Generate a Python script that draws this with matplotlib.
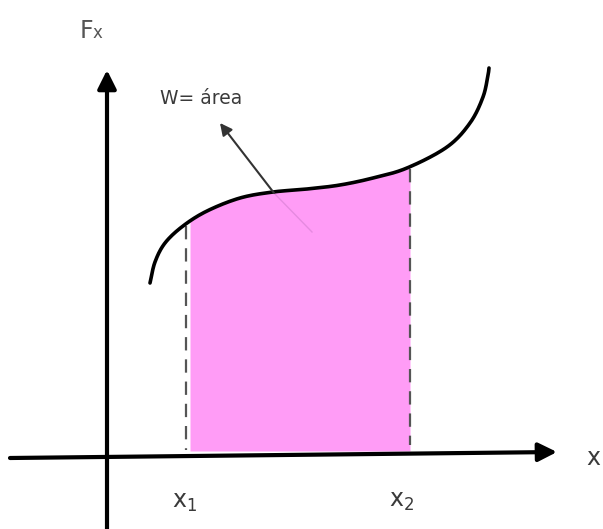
import numpy as np
import matplotlib.pyplot as plt

# curve F(x) (pixel-like units, y grows downward)
curve_x = [150, 155, 165, 183, 207, 240, 273, 307, 340, 373, 407, 447, 470, 483, 488, 489]
curve_y = [283, 262, 243, 226, 211, 198, 192, 189, 185, 178, 168, 147, 123, 97, 75, 68]

x1, x2 = 190, 410
axis_y = 451
labels = ["x$_1$", "x$_2$"]


def smooth(px, py, n=20):
    # catmull-rom through the read points, just for a smooth stroke
    p = np.column_stack([px, py]).astype(float)
    p = np.vstack([p[0] * 2 - p[1], p, p[-1] * 2 - p[-2]])
    out = []
    t = np.linspace(0, 1, n, endpoint=False)[:, None]
    for i in range(1, len(p) - 2):
        p0, p1, p2, p3 = p[i - 1], p[i], p[i + 1], p[i + 2]
        seg = 0.5 * ((2 * p1) + (-p0 + p2) * t + (2 * p0 - 5 * p1 + 4 * p2 - p3) * t ** 2
                     + (-p0 + 3 * p1 - 3 * p2 + p3) * t ** 3)
        out.append(seg)
    out.append(p[-2][None, :])
    out = np.vstack(out)
    return out[:, 0], out[:, 1]


sx, sy = smooth(curve_x, curve_y)

fig = plt.figure(figsize=(6.03, 5.29), dpi=100)
ax = fig.add_axes([0, 0, 1, 1])
ax.set_xlim(0, 603)
ax.set_ylim(529, 0)
ax.axis('off')

# shaded area under the curve between x1 and x2
xs = np.linspace(x1, x2, 200)
ys = np.interp(xs, sx, sy)
ax.fill_between(xs, ys, axis_y, color='#ff9cf6', lw=0, zorder=1)

# dashed boundaries
ax.plot([186, 186], [np.interp(186, sx, sy) + 2, 450], color='#555555',
        lw=1.6, ls=(0, (6, 4)), zorder=2)
ax.plot([410, 410], [np.interp(410, sx, sy) + 2, 445], color='#555555',
        lw=1.6, ls=(0, (6, 4)), zorder=2)

# curve
ax.plot(sx, sy, color='black', lw=2.6, solid_capstyle='round', zorder=3)

# axes with arrows
ax.annotate('', xy=(557, 452), xytext=(10, 458),
            arrowprops=dict(arrowstyle='-|>', lw=3, color='black', mutation_scale=28,
                            shrinkA=0, shrinkB=0), zorder=4)
ax.annotate('', xy=(107, 70), xytext=(107, 529),
            arrowprops=dict(arrowstyle='-|>', lw=3, color='black', mutation_scale=28,
                            shrinkA=0, shrinkB=0), zorder=4)

# pointer to the area label
ax.plot([273, 312], [192, 232], color='#e58ae0', lw=1.0, zorder=2)
ax.annotate('', xy=(220, 123), xytext=(274, 193),
            arrowprops=dict(arrowstyle='-|>', lw=1.5, color='#333333', mutation_scale=18,
                            shrinkA=0, shrinkB=0), zorder=4)

txt = '#3a3a3a'
ax.text(80, 38, 'F', fontsize=17, color='#555555', ha='left', va='baseline')
ax.text(93, 38, 'x', fontsize=12, color='#555555', ha='left', va='baseline')
ax.text(160, 104, 'W= área', fontsize=13.5, color=txt, ha='left', va='baseline')
ax.text(586, 465, 'x', fontsize=17, color=txt, ha='left', va='baseline')
ax.text(172, 508, labels[0], fontsize=17, color=txt, ha='left', va='baseline')
ax.text(389, 507, labels[1], fontsize=17, color=txt, ha='left', va='baseline')

fig.savefig('out.png', dpi=100)
